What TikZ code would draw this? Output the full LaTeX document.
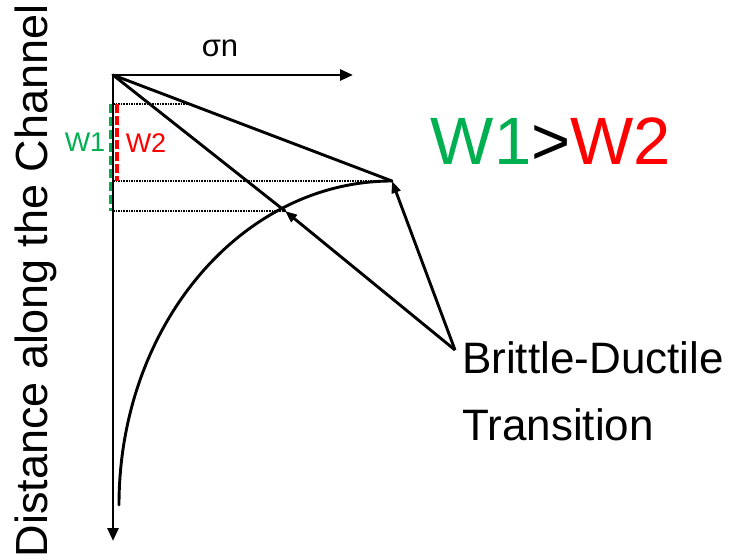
\documentclass[tikz,border=0pt]{standalone}
\usepackage{fontspec}
\setmainfont{Liberation Sans}
\usetikzlibrary{arrows.meta}
\definecolor{wonec}{HTML}{00B050}
\definecolor{wtwoc}{HTML}{FF0000}
\tikzset{
  axis/.style={draw=black, line width=2.9pt, -{Triangle[length=13pt,width=11pt]}},
  edge/.style={draw=black, line width=2.9pt, line cap=round, line join=round},
  pointer/.style={draw=black, line width=2.9pt, -{Triangle[length=12pt,width=9pt]}},
  level/.style={draw=black, line width=1.6pt, densely dotted},
  wone/.style={draw=wonec, line width=4pt, dash pattern=on 9pt off 4pt},
  wtwo/.style={draw=wtwoc, line width=4pt, dash pattern=on 9pt off 3pt},
}

\begin{document}
\begin{tikzpicture}[x=1pt,y=-1pt]
\useasboundingbox (0,0) rectangle (730,559);
\coordinate (O) at (113,75);
\coordinate (sx) at (353,75);
\coordinate (sy) at (113,541);
\coordinate (P) at (392,181);
\coordinate (X) at (285,211);
\coordinate (bd) at (455,350);
\coordinate (cb) at (119,505);
% dotted levels
\draw[level] (113,104) -- (189,104);
\draw[level] (113,181) -- (P);
\draw[level] (113,211) -- (X);
% widths
\draw[wone] (110.5,104) -- (110.5,211);
\draw[wtwo] (116.5,104) -- (116.5,181);
% axes
\draw[axis] (O) -- (sx);
\draw[axis] (O) -- (sy);
% profile
\draw[edge] (O) -- (P);
\draw[edge] (O) -- (X);
\draw[edge] (cb) .. controls (119,326) and (241,181) .. (P);
\draw[pointer] (bd) -- (X);
\draw[pointer] (bd) -- (P);
% labels
\node[font=\fontsize{31}{36}\selectfont] (sigma) at (220,48) {σn};
\node[text=wonec, font=\fontsize{27}{32}\selectfont] (w1) at (85,142) {W1};
\node[text=wtwoc, font=\fontsize{27}{32}\selectfont] (w2) at (146,143) {W2};
\node[font=\fontsize{67}{80}\selectfont] (cmp) at (551,141) {\textcolor{wonec}{W1}>\textcolor{wtwoc}{W2}};
\node[anchor=base west, align=left, inner sep=0pt, font=\fontsize{44}{67}\selectfont] (bdt) at (462,440)
  {Brittle-Ductile\\Transition};
\node[rotate=90, anchor=base, inner sep=0pt, font=\fontsize{45}{54}\selectfont] (ylab) at (47,281)
  {Distance along the Channel};
\end{tikzpicture}
\end{document}
